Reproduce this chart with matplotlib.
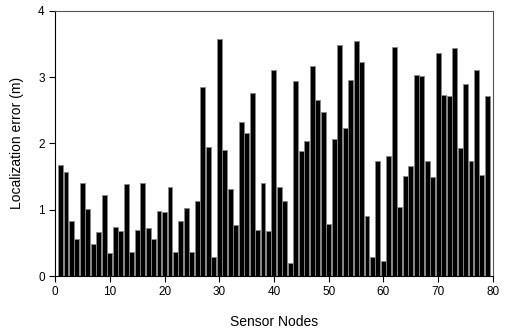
import matplotlib
matplotlib.use("Agg")
import matplotlib.pyplot as plt

plt.rcParams['font.family'] = ['Liberation Sans', 'DejaVu Sans']

nodes = list(range(1, 80))
errors = [1.67, 1.57, 0.83, 0.56, 1.40, 1.01, 0.49, 0.66, 1.22, 0.35,
          0.74, 0.68, 1.39, 0.36, 0.69, 1.41, 0.73, 0.56, 0.98, 0.96,
          1.34, 0.36, 0.83, 1.03, 0.36, 1.13, 2.85, 1.94, 0.28, 3.58,
          1.90, 1.31, 0.77, 2.32, 2.16, 2.76, 0.70, 1.41, 0.68, 3.10,
          1.34, 1.13, 0.20, 2.94, 1.88, 2.03, 3.17, 2.65, 2.47, 0.79,
          2.07, 3.48, 2.23, 2.95, 3.55, 3.22, 0.91, 0.29, 1.73, 0.23,
          1.81, 3.45, 1.04, 1.51, 1.66, 3.03, 3.01, 1.73, 1.49, 3.36,
          2.73, 2.71, 3.43, 1.93, 2.89, 1.73, 3.10, 1.52, 2.71]
xticks = [0, 10, 20, 30, 40, 50, 60, 70, 80]
yticks = [0, 1, 2, 3, 4]

fig = plt.figure(figsize=(5.05, 3.33), dpi=100)
ax = fig.add_axes([0.109, 0.171, 0.867, 0.797])
ax.bar(nodes, errors, width=0.9, color='black', edgecolor='#888888', linewidth=0.6)
ax.set_xlim(0, 80)
ax.set_ylim(0, 4)
ax.set_xticks(xticks)
ax.set_yticks(yticks)
ax.tick_params(direction='out', labelsize=8.5, length=4, width=0.8, pad=3.5)
ax.set_xlabel('Sensor Nodes', fontsize=10, labelpad=12)
ax.set_ylabel('Localization error (m)', fontsize=10, labelpad=10)
for s in ax.spines.values():
    s.set_linewidth(0.8)
ax.spines['top'].set_color('#555555')
ax.spines['right'].set_color('#555555')
fig.savefig('out.png', dpi=100)
